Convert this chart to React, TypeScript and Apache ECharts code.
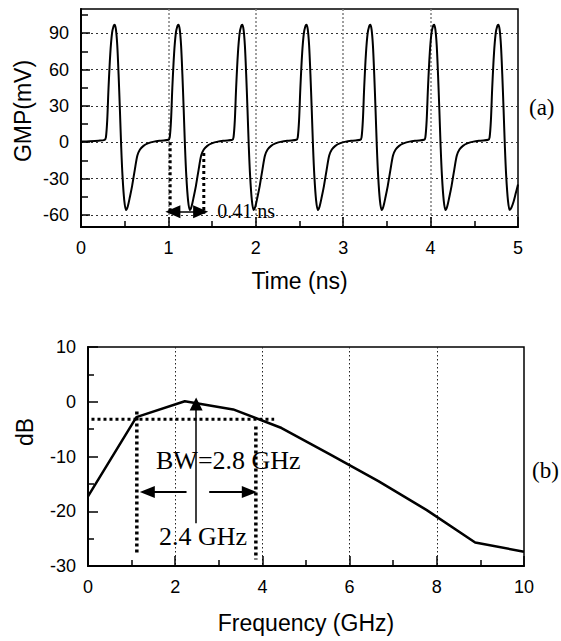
import React, { useEffect, useRef } from "react";
import * as echarts from "echarts";

const SANS = "'Liberation Sans', Arial, Helvetica, sans-serif";
const SERIF = "'Liberation Serif', 'Times New Roman', serif";

// ---------- (a) GMP waveform, [time ns, mV] ----------
const pulseA = [[0, 0.5], [0.1, 0.8], [0.2, 1.3], [0.27, 2], [0.285, 4], [0.3, 18], [0.315, 45], [0.335, 73], [0.355, 90], [0.373, 96], [0.385, 97], [0.4, 93], [0.415, 80], [0.43, 56], [0.445, 27], [0.46, -4], [0.475, -28], [0.495, -48], [0.515, -56], [0.535, -53], [0.56, -45], [0.585, -36], [0.615, -23], [0.645, -11], [0.675, -6], [0.715, -3], [0.765, -1], [0.835, 0.5], [0.915, 1.3]];
const pulseB = [[1.0, 2], [1.015, 4], [1.03, 18], [1.045, 45], [1.065, 73], [1.085, 90], [1.103, 96], [1.115, 97], [1.13, 93], [1.145, 80], [1.16, 56], [1.175, 27], [1.19, -4], [1.205, -28], [1.225, -48], [1.245, -56], [1.265, -53], [1.29, -45], [1.315, -36], [1.345, -23], [1.375, -11], [1.405, -6], [1.445, -3], [1.495, -1], [1.565, 0.5], [1.645, 1.3]];
const pulseC = [[1.73, 2], [1.745, 4], [1.76, 18], [1.775, 45], [1.795, 73], [1.815, 90], [1.833, 96], [1.845, 97], [1.86, 93], [1.875, 80], [1.89, 56], [1.905, 27], [1.92, -4], [1.935, -28], [1.955, -48], [1.975, -56], [1.995, -53], [2.02, -45], [2.045, -36], [2.075, -23], [2.105, -11], [2.135, -6], [2.175, -3], [2.225, -1], [2.295, 0.5], [2.375, 1.3]];
const pulseD = [[2.465, 2], [2.48, 4], [2.495, 18], [2.51, 45], [2.53, 73], [2.55, 90], [2.568, 96], [2.58, 97], [2.595, 93], [2.61, 80], [2.625, 56], [2.64, 27], [2.655, -4], [2.67, -28], [2.69, -48], [2.71, -56], [2.73, -53], [2.755, -45], [2.78, -36], [2.81, -23], [2.84, -11], [2.87, -6], [2.91, -3], [2.96, -1], [3.03, 0.5], [3.11, 1.3]];
const pulseE = [[3.195, 2], [3.21, 4], [3.225, 18], [3.24, 45], [3.26, 73], [3.28, 90], [3.298, 96], [3.31, 97], [3.325, 93], [3.34, 80], [3.355, 56], [3.37, 27], [3.385, -4], [3.4, -28], [3.42, -48], [3.44, -56], [3.46, -53], [3.485, -45], [3.51, -36], [3.54, -23], [3.57, -11], [3.6, -6], [3.64, -3], [3.69, -1], [3.76, 0.5], [3.84, 1.3]];
const pulseF = [[3.925, 2], [3.94, 4], [3.955, 18], [3.97, 45], [3.99, 73], [4.01, 90], [4.028, 96], [4.04, 97], [4.055, 93], [4.07, 80], [4.085, 56], [4.1, 27], [4.115, -4], [4.13, -28], [4.15, -48], [4.17, -56], [4.19, -53], [4.215, -45], [4.24, -36], [4.27, -23], [4.3, -11], [4.33, -6], [4.37, -3], [4.42, -1], [4.49, 0.5], [4.57, 1.3]];
const pulseG = [[4.66, 2], [4.675, 4], [4.69, 18], [4.705, 45], [4.725, 73], [4.745, 90], [4.763, 96], [4.775, 97], [4.79, 93], [4.805, 80], [4.82, 56], [4.835, 27], [4.85, -4], [4.865, -28], [4.885, -48], [4.905, -56], [4.925, -54], [4.95, -49], [4.975, -42], [5.0, -35]];

const timeTicks = [0, 1, 2, 3, 4, 5];
const gmpLabelTicks = [-60, -30, 0, 30, 60, 90];
const gmpMinorTicks = [-45, -15, 15, 45, 75, 105];

// 0.41 ns annotation (data coordinates)
const widthMarkLeft = [[1.02, 0], [1.02, -59]];
const widthMarkRight = [[1.405, -9], [1.405, -59]];
const widthArrow = [[1.051, -57.5], [1.369, -57.5]];
const widthText = [[1.56, -57, "0.41 ns"]];

// ---------- (b) spectrum, [GHz, dB] ----------
const freqGHz = [0, 1.11, 2.22, 3.33, 4.44, 5.55, 6.66, 7.77, 8.88, 10];
const gainDb = [-17.3, -2.8, 0.1, -1.4, -4.8, -9.6, -14.5, -19.8, -25.7, -27.4];

const halfPowerLine = [[0.08, -3.2], [4.27, -3.2]];
const bwLeftEdge = [[1.12, -1.8], [1.12, -27.6]];
const bwRightEdge = [[3.85, -4.5], [3.85, -28.8]];
const bwLeftArrow = [[2.26, -16.5], [1.36, -16.5]];
const bwRightArrow = [[2.78, -16.5], [3.7, -16.5]];
const centerArrow = [[2.48, -22.2], [2.48, -0.4]];
const bwTexts = [[1.56, -10.7, "BW=2.8 GHz"], [1.63, -24.7, "2.4 GHz"]];

export default function App() {
  const ref = useRef<HTMLDivElement>(null);

  useEffect(() => {
    const chart = echarts.init(ref.current as HTMLDivElement, null, { renderer: "svg" });
    const black = "#000";
    const tickStyle = { color: black, width: 1.5 };
    const labelStyle = { color: black, fontSize: 18, fontFamily: SANS };
    const nameFont = `23px ${SANS}`;

    const dotted = (data: number[][], xi: number, yi: number, width = 3) => ({
      type: "line",
      xAxisIndex: xi,
      yAxisIndex: yi,
      data,
      symbol: "none",
      silent: true,
      lineStyle: { color: black, width, type: [3, 3], cap: "butt" },
      z: 3,
    });
    const arrow = (pts: number[][], xi: number, yi: number, both: boolean, width: number, size: number[]) => ({
      type: "lines",
      coordinateSystem: "cartesian2d",
      xAxisIndex: xi,
      yAxisIndex: yi,
      silent: true,
      symbol: both ? ["triangle", "triangle"] : ["none", "triangle"],
      symbolSize: [size, size],
      lineStyle: { color: black, width, opacity: 1, curveness: 0 },
      itemStyle: { color: black, opacity: 1 },
      data: [{ coords: pts }],
      z: 4,
    });
    const texts = (data: any[], xi: number, yi: number, fontSize: number) => ({
      type: "scatter",
      xAxisIndex: xi,
      yAxisIndex: yi,
      symbolSize: 0,
      silent: true,
      clip: false,
      itemStyle: { color: black, opacity: 1 },
      data: data.map((d) => ({ value: [d[0], d[1]], name: d[2] })),
      label: {
        show: true,
        position: "right",
        distance: 0,
        formatter: (p: any) => p.name,
        fontFamily: SERIF,
        fontSize,
        color: "#000",
        opacity: 1,
        textBorderWidth: 0,
      },
      z: 5,
    });

    const option: any = {
      animation: false,
      backgroundColor: "#fff",
      grid: [
        { left: 81, top: 9, width: 437, height: 218, show: true, borderColor: black, borderWidth: 1.5, backgroundColor: "transparent", containLabel: false, outerBoundsMode: "none" },
        { left: 88, top: 347, width: 436, height: 219, show: true, borderColor: black, borderWidth: 1.5, backgroundColor: "transparent", containLabel: false, outerBoundsMode: "none" },
      ],
      xAxis: [
        {
          gridIndex: 0,
          type: "value",
          min: timeTicks[0],
          max: timeTicks[timeTicks.length - 1],
          interval: 1,
          axisLine: { show: true, onZero: false, lineStyle: { color: black, width: 2 } },
          axisTick: { show: true, inside: true, length: 10, lineStyle: tickStyle },
          minorTick: { show: true, splitNumber: 2, length: 6, lineStyle: tickStyle },
          axisLabel: { ...labelStyle, margin: 12 },
          splitLine: { show: true, showMinLine: false, showMaxLine: false, lineStyle: { color: "#808080", width: 1.5, type: [2, 2] } },
          name: "Time (ns)",
          nameLocation: "middle",
          nameGap: 42,
          nameTextStyle: { color: black, fontSize: 23, fontFamily: SANS },
        },
        {
          gridIndex: 1,
          type: "value",
          min: 0,
          max: 10,
          interval: 2,
          axisLine: { show: true, onZero: false, lineStyle: { color: black, width: 2 } },
          axisTick: { show: true, inside: true, length: 10, lineStyle: tickStyle },
          minorTick: { show: true, splitNumber: 2, length: 6, lineStyle: tickStyle },
          axisLabel: { ...labelStyle, margin: 12 },
          splitLine: { show: true, showMinLine: false, showMaxLine: false, lineStyle: { color: "#222", width: 1, type: [1.5, 2.5] } },
          name: "Frequency (GHz)",
          nameLocation: "middle",
          nameGap: 45,
          nameTextStyle: { color: black, fontSize: 23, fontFamily: SANS },
        },
      ],
      yAxis: [
        {
          gridIndex: 0,
          type: "value",
          min: -70,
          max: 110,
          axisLine: { show: true, onZero: false, lineStyle: { color: black, width: 2 } },
          axisTick: { show: true, inside: true, length: 9, customValues: gmpLabelTicks, lineStyle: tickStyle },
          axisLabel: { ...labelStyle, margin: 12, customValues: gmpLabelTicks },
          splitLine: { show: true, lineStyle: { color: "#333", width: 1, type: [2, 3] } },
        },
        {
          gridIndex: 0,
          type: "value",
          min: -70,
          max: 110,
          position: "left",
          axisLine: { show: false, onZero: false },
          axisTick: { show: true, inside: true, length: 7, customValues: gmpMinorTicks, lineStyle: tickStyle },
          axisLabel: { show: false, customValues: gmpMinorTicks },
          splitLine: { show: false },
        },
        {
          gridIndex: 1,
          type: "value",
          min: -30,
          max: 10,
          interval: 10,
          axisLine: { show: true, onZero: false, lineStyle: { color: black, width: 2 } },
          axisTick: { show: true, inside: true, length: 10, lineStyle: tickStyle },
          minorTick: { show: true, splitNumber: 2, length: 6, lineStyle: tickStyle },
          axisLabel: { ...labelStyle, margin: 12 },
          splitLine: { show: false },
        },
      ],
      series: [
        {
          type: "line",
          xAxisIndex: 0,
          yAxisIndex: 0,
          data: [...pulseA, ...pulseB, ...pulseC, ...pulseD, ...pulseE, ...pulseF, ...pulseG],
          symbol: "none",
          smooth: 0.3,
          lineStyle: { color: black, width: 2 },
          z: 2,
        },
        dotted(widthMarkLeft, 0, 0, 3),
        dotted(widthMarkRight, 0, 0, 3),
        arrow(widthArrow, 0, 0, true, 1.5, [13, 15]),
        texts(widthText, 0, 0, 20),
        {
          type: "line",
          xAxisIndex: 1,
          yAxisIndex: 2,
          data: freqGHz.map((f, i) => [f, gainDb[i]]),
          symbol: "none",
          lineStyle: { color: black, width: 2.5 },
          z: 2,
        },
        dotted(halfPowerLine, 1, 2, 3),
        dotted(bwLeftEdge, 1, 2, 3.5),
        dotted(bwRightEdge, 1, 2, 3.5),
        arrow(bwLeftArrow, 1, 2, false, 2, [12, 15]),
        arrow(bwRightArrow, 1, 2, false, 2, [12, 15]),
        arrow(centerArrow, 1, 2, false, 1.5, [13, 13]),
        texts(bwTexts, 1, 2, 26),
      ],
      graphic: [
        { type: "text", x: 23, y: 111, rotation: Math.PI / 2, style: { text: "GMP(mV)", font: nameFont, fill: black, align: "center", verticalAlign: "middle" } },
        { type: "text", x: 25, y: 432, rotation: Math.PI / 2, style: { text: "dB", font: nameFont, fill: black, align: "center", verticalAlign: "middle" } },
        { type: "text", left: 529, top: 96, style: { text: "(a)", font: `23px ${SERIF}`, fill: black } },
        { type: "text", left: 532, top: 459, style: { text: "(b)", font: `23px ${SERIF}`, fill: black } },
      ],
    };
    chart.setOption(option);
    return () => chart.dispose();
  }, []);

  return (
    <div
      ref={ref}
      style={{ position: "absolute", left: 0, top: 0, width: 561, height: 641, background: "#fff" }}
    />
  );
}
